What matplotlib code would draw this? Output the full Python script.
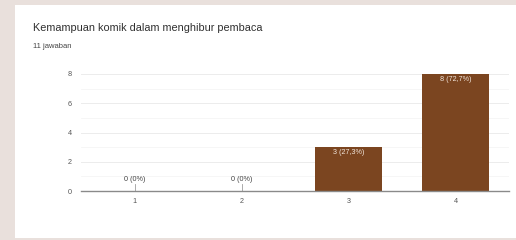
import matplotlib
matplotlib.use("Agg")
import matplotlib.pyplot as plt
from matplotlib.patches import Rectangle

# data
categories = ["1", "2", "3", "4"]
counts = [0, 0, 3, 8]
labels = ["0 (0%)", "0 (0%)", "3 (27,3%)", "8 (72,7%)"]
yticks = [0, 2, 4, 6, 8]

title = "Kemampuan komik dalam menghibur pembaca"
subtitle = "11 jawaban"

plt.rcParams["font.family"] = ["Liberation Sans", "DejaVu Sans"]

W, H = 516, 240
fig = plt.figure(figsize=(W / 100, H / 100), dpi=100)
fig.patch.set_facecolor("#e9e0dc")

# white card behind everything
card = Rectangle((15 / W, 2 / H), 1 - 15 / W, 1 - 7 / H, transform=fig.transFigure,
                 facecolor="white", edgecolor="none", zorder=-10)
fig.patches.append(card)

fig.text(33 / W, 1 - 28 / H, title, fontsize=7.8, color="#303030", va="center")
fig.text(33 / W, 1 - 46 / H, subtitle, fontsize=5.5, color="#444444", va="center")

ax = fig.add_axes([81 / W, 1 - 191 / H, (509 - 81) / W, (191 - 74) / H])
ax.set_facecolor("white")

x = list(range(len(categories)))
bar_color = "#7b4520"
ax.bar(x, counts, width=0.62, color=bar_color, zorder=3)

for xi, c, lab in zip(x, counts, labels):
    if c > 0:
        ax.text(xi, c - 0.12, lab, ha="center", va="top", fontsize=5.2, color="#f2e6dc", zorder=4)
    else:
        ax.plot([xi, xi], [0, 0.45], color="#9e9e9e", lw=0.6, zorder=4)
        ax.text(xi, 0.55, lab, ha="center", va="bottom", fontsize=5.2, color="#444444", zorder=4)

ax.set_xlim(-0.5, len(categories) - 0.5)
ax.set_ylim(0, 8)
ax.set_yticks(yticks)
ax.set_yticks([1, 3, 5, 7], minor=True)
ax.grid(axis="y", which="major", color="#ececec", lw=0.7, zorder=0)
ax.grid(axis="y", which="minor", color="#f5f5f5", lw=0.6, zorder=0)
ax.set_xticks(x)
ax.set_xticklabels(categories)
ax.tick_params(axis="both", which="both", length=0, labelsize=5.2, labelcolor="#555555")
ax.tick_params(axis="y", pad=6.5)
ax.tick_params(axis="x", pad=5)
for s in ["top", "right", "left"]:
    ax.spines[s].set_visible(False)
ax.spines["bottom"].set_color("#8a8a8a")
ax.spines["bottom"].set_linewidth(1.0)
ax.spines["bottom"].set_zorder(5)

fig.savefig("out.png", dpi=100, facecolor=fig.get_facecolor())
